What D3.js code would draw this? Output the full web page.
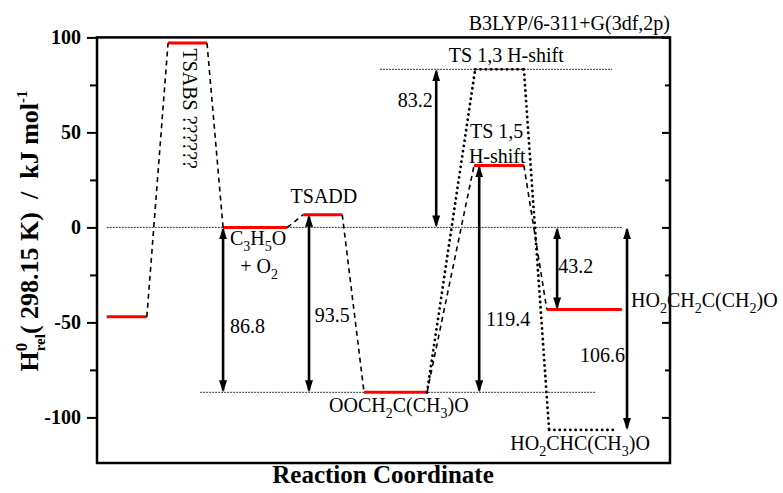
<!DOCTYPE html>
<html>
<head>
<meta charset="utf-8">
<style>
  body { margin: 0; background: #fff; }
  svg text { font-family: "Liberation Serif", "Times New Roman", serif; white-space: pre; }
</style>
</head>
<body>
<svg id="chart" width="783" height="493"></svg>
<script src="https://cdn.jsdelivr.net/npm/d3@7"></script>
<script>
// energy levels (kJ/mol) and their extent along the reaction coordinate
const levelNames  = ["R", "TSABS", "C3H5O", "TSADD", "OOCH2", "TS13", "TS15", "HO2CH2", "HO2CHC"];
const levelValues = [-47, 97, 0, 6.7, -86.8, 83.2, 32.6, -43.2, -106.6];
const levelStart  = [1.7, 12.4, 22.0, 36.0, 46.6, 66.0, 65.8, 78.5, 78.9];
const levelEnd    = [8.7, 19.2, 33.2, 42.8, 57.6, 74.5, 74.5, 91.6, 90.9];

// pathways connecting the levels
const dashedPath = ["R", "TSABS", "C3H5O", "TSADD", "OOCH2", "TS15", "HO2CH2"];
const dottedPath = ["OOCH2", "TS13", "HO2CHC"];
const dottedLevels = ["TS13", "HO2CHC"];

// thin reference lines
const refValues = [0, 83.2, -86.8];
const refStart  = [1.7, 49.4, 18.0];
const refEnd    = [91.6, 89.9, 87.1];

// energy gap arrows
const gapLabels = ["86.8", "93.5", "83.2", "119.4", "43.2", "106.6"];
const gapFrom   = [0, -86.8, 0, -86.8, 0, 0];
const gapTo     = [-86.8, 6.7, 83.2, 32.6, -43.2, -106.6];
const gapX      = [22.0, 37.0, 59.2, 66.7, 80.3, 92.5];
const gapLabelX = [23.2, 38.0, 52.5, 67.9, 80.5, 84.3];
const gapLabelY = [-55.8, -50, 63.2, -52.1, -24.2, -71.1];

// species labels, "_{..}" marks a subscript
const labelTexts  = ["TSADD", "C_{3}H_{5}O", "+ O_{2}", "TS 1,3 H-shift", "TS 1,5", "H-shift",
                     "HO_{2}CH_{2}C(CH_{2})O", "OOCH_{2}C(CH_{3})O", "HO_{2}CHC(CH_{3})O"];
const labelX      = [39.6, 23.2, 25.0, 61.4, 65.1, 64.9, 93.2, 40.5, 96.5];
const labelY      = [12.6, -9.5, -24.2, 86.8, 46.8, 33.7, -42.1, -97.4, -117.4];
const labelAnchor = ["middle", "start", "start", "start", "start", "start", "start", "start", "end"];

const yTicks = [-100, -50, 0, 50, 100];
const yMinor = [-75, -25, 25, 75];

const svg = d3.select("#chart");
const pl = 97, pr = 670, pt = 37.4, pb = 463;

const x = d3.scaleLinear().domain([0, 100]).range([pl, pr]);
const y = d3.scaleLinear().domain([-124, 100]).range([pb, pt]);

const levels = levelNames.map((n, i) => ({name: n, v: levelValues[i], x0: levelStart[i], x1: levelEnd[i]}));
const byName = n => levels.find(l => l.name === n);

// arrow marker
svg.append("defs").append("marker")
    .attr("id", "head")
    .attr("viewBox", "0 0 12 8")
    .attr("refX", 10).attr("refY", 4)
    .attr("markerWidth", 12).attr("markerHeight", 8)
    .attr("markerUnits", "userSpaceOnUse")
    .attr("orient", "auto-start-reverse")
    .append("path").attr("d", "M0,0L12,4L0,8Z").attr("fill", "#000");

// reference dotted lines
svg.selectAll(".ref")
    .data(refValues)
    .enter().append("line")
    .attr("x1", (d, i) => x(refStart[i]))
    .attr("x2", (d, i) => x(refEnd[i]))
    .attr("y1", d => y(d)).attr("y2", d => y(d))
    .attr("stroke", "#333").attr("stroke-width", 1)
    .attr("stroke-dasharray", "2,1");

// level bars
svg.selectAll(".level")
    .data(levels)
    .enter().append("line")
    .attr("x1", d => x(d.x0)).attr("x2", d => x(d.x1))
    .attr("y1", d => y(d.v)).attr("y2", d => y(d.v))
    .attr("stroke", "red")
    .attr("stroke-width", d => dottedLevels.includes(d.name) ? (d.name === "TS13" ? 1 : 0) : 3);

// connecting paths
function connectors(path) {
    const segs = [];
    for (let i = 0; i < path.length - 1; i++) segs.push([byName(path[i]), byName(path[i + 1])]);
    return segs;
}
svg.selectAll(".dash")
    .data(connectors(dashedPath))
    .enter().append("line")
    .attr("x1", d => x(d[0].x1)).attr("y1", d => y(d[0].v))
    .attr("x2", d => x(d[1].x0)).attr("y2", d => y(d[1].v))
    .attr("stroke", "#000").attr("stroke-width", 1.6)
    .attr("stroke-dasharray", "5,4");

svg.selectAll(".dot")
    .data(connectors(dottedPath))
    .enter().append("line")
    .attr("x1", d => x(d[0].x1)).attr("y1", d => y(d[0].v))
    .attr("x2", d => x(d[1].x0)).attr("y2", d => y(d[1].v))
    .attr("stroke", "#000").attr("stroke-width", 2.8)
    .attr("stroke-linecap", "round")
    .attr("stroke-dasharray", "0.1,5.2");

svg.selectAll(".dotlevel")
    .data(levels.filter(d => dottedLevels.includes(d.name)))
    .enter().append("line")
    .attr("x1", d => x(d.x0)).attr("x2", d => x(d.x1))
    .attr("y1", d => y(d.v)).attr("y2", d => y(d.v))
    .attr("stroke", "#000").attr("stroke-width", 2.8)
    .attr("stroke-linecap", "round")
    .attr("stroke-dasharray", "0.1,5.2");

// gap arrows
gapLabels.forEach((lab, i) => {
    const ya = y(gapFrom[i]), yb = y(gapTo[i]);
    const s = yb > ya ? 1 : -1;
    svg.append("line")
        .attr("x1", x(gapX[i])).attr("x2", x(gapX[i]))
        .attr("y1", ya + s * 2).attr("y2", yb - s * 2)
        .attr("stroke", "#000").attr("stroke-width", 2.6)
        .attr("marker-start", "url(#head)")
        .attr("marker-end", "url(#head)");
    svg.append("text")
        .attr("x", x(gapLabelX[i])).attr("y", y(gapLabelY[i]))
        .attr("font-size", 20)
        .text(lab);
});

// formula text with subscripts
function formula(sel, str, size) {
    const parts = str.split(/_\{([^}]*)\}/);
    parts.forEach((p, j) => {
        if (p === "") return;
        if (j % 2 === 1) {
            sel.append("tspan").attr("font-size", size * 0.7).attr("dy", 6).text(p);
        } else {
            sel.append("tspan").attr("font-size", size).attr("dy", j > 0 ? -6 : 0).text(p);
        }
    });
}

labelTexts.forEach((t, i) => {
    const txt = svg.append("text")
        .attr("x", x(labelX[i])).attr("y", y(labelY[i]))
        .attr("text-anchor", labelAnchor[i]);
    formula(txt, t, 20);
});

// rotated TSABS label
svg.append("text")
    .attr("transform", `translate(${x(15.0)},${y(94.2)}) rotate(90)`)
    .attr("font-size", 20)
    .text("TSABS ??????");

// method label
svg.append("text")
    .attr("x", pr).attr("y", 30)
    .attr("text-anchor", "end")
    .attr("font-size", 20)
    .text("B3LYP/6-311+G(3df,2p)");

// axes
const yAxisL = svg.append("g")
    .attr("transform", `translate(${pl},0)`)
    .call(d3.axisLeft(y).tickValues(yTicks).tickSize(10).tickPadding(6).tickFormat(d => String(d)));
svg.append("g")
    .attr("transform", `translate(${pl},0)`)
    .call(d3.axisLeft(y).tickValues(yMinor).tickSize(7).tickFormat(""));
svg.append("g")
    .attr("transform", `translate(${pr},0)`)
    .call(d3.axisRight(y).tickValues(yTicks).tickSize(-8).tickFormat(""));
svg.append("g")
    .attr("transform", `translate(${pr},0)`)
    .call(d3.axisRight(y).tickValues(yMinor).tickSize(-5).tickFormat(""));

svg.selectAll(".domain").remove();
svg.selectAll(".tick line").attr("stroke", "#000").attr("stroke-width", 2);
yAxisL.selectAll("text")
    .style("font-family", "'Liberation Serif', serif")
    .attr("font-weight", "bold")
    .attr("font-size", 20)
    .attr("fill", "#000");

svg.append("rect")
    .attr("x", pl).attr("y", pt)
    .attr("width", pr - pl).attr("height", pb - pt)
    .attr("fill", "none").attr("stroke", "#000").attr("stroke-width", 2.5);

// axis titles
svg.append("text")
    .attr("x", 383).attr("y", 483)
    .attr("text-anchor", "middle")
    .attr("font-size", 25).attr("font-weight", "bold")
    .text("Reaction Coordinate");

const yt = svg.append("text")
    .attr("transform", "translate(38,231) rotate(-90)")
    .attr("text-anchor", "middle")
    .attr("font-size", 26).attr("font-weight", "bold");
yt.append("tspan").text("H");
yt.append("tspan").attr("font-size", 17).attr("dy", -11).text("0");
yt.append("tspan").attr("font-size", 15).attr("dx", -8.5).attr("dy", 18).text("rel");
yt.append("tspan").attr("dy", -7).text("( 298.15 K)  /  kJ mol");
yt.append("tspan").attr("font-size", 15).attr("dy", -11).text("-1");
</script>
</body>
</html>
